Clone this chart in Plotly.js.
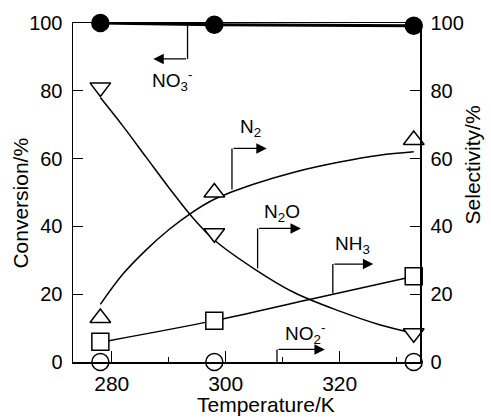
<!DOCTYPE html>
<html>
<head>
<meta charset="utf-8">
<script src="https://cdn.plot.ly/plotly-3.0.1.min.js"></script>
<style>html,body{margin:0;padding:0;background:#fff;}#chart{width:491px;height:419px;}</style>
</head>
<body>
<div id="chart"></div>
<script>
// Measured points
const temps = [278, 298, 333];
const no3Conv = [100, 99.5, 99.2];
const n2Sel = [13, 50, 65.5];
const n2oSel = [81, 38, 8.5];
const nh3Sel = [6, 12.2, 25.3];
const no2Sel = [0, 0, 0];

// Fitted curves
const fitT = [278, 282, 286, 290, 294, 298, 305, 312, 320, 327, 333];
const n2Fit = [17, 26, 33, 39, 44, 48, 52.5, 56, 59, 61, 62];
const n2oFit = [78, 69.5, 60.5, 51.5, 43, 36, 27.5, 20.5, 15, 11, 8.5];
const nh3FitT = [279.5, 298, 314.3, 331.5];
const nh3Fit = [6.3, 12.2, 18.3, 24.7];

const xTicks = [280, 300, 320];
const yTicks = [0, 20, 40, 60, 80, 100];

const F = "Liberation Sans, Arial, sans-serif";
const black = "#000";

function lineTrace(x, y, axis, w) {
  return {x: x, y: y, yaxis: axis, mode: "lines", type: "scatter",
    line: {color: black, width: w, shape: "spline", smoothing: 1},
    hoverinfo: "skip", showlegend: false, cliponaxis: false};
}
function markTrace(y, sym, size, fill, axis) {
  return {x: temps, y: y, yaxis: axis, mode: "markers", type: "scatter",
    marker: {symbol: sym, size: size, color: fill, line: {color: black, width: 1.5}},
    showlegend: false, cliponaxis: false};
}

const data = [
  lineTrace(temps, no3Conv, "y", 3),
  lineTrace(fitT, n2Fit, "y2", 1.5),
  lineTrace(fitT, n2oFit, "y2", 1.5),
  lineTrace(nh3FitT, nh3Fit, "y2", 1.5),
  markTrace(no2Sel, "circle", 17, "#fff", "y2"),
  markTrace(nh3Sel, "square", 17, "#fff", "y2"),
  markTrace(n2Sel, "triangle-up", 18, "#fff", "y2"),
  markTrace(n2oSel, "triangle-down", 18, "#fff", "y2"),
  markTrace(no3Conv, "circle", 17, black, "y")
];

// leaders: [xStart, yStart, yCorner, xTip]
const leaders = [
  [293.3, 100, 89.4, 287.3],
  [301.1, 50.9, 63, 307.2],
  [305.6, 27.6, 39.4, 313.2],
  [318.8, 20.2, 28.9, 325.9],
  [309.0, 0, 3.7, 317.4]
];
const shapes = leaders.map(l => ({type: "line", xref: "x", yref: "y",
  x0: l[0], x1: l[0], y0: l[1], y1: l[2], line: {color: black, width: 1.3}}));
const arrows = leaders.map(l => ({xref: "x", yref: "y", axref: "x", ayref: "y",
  x: l[3], y: l[2], ax: l[0], ay: l[2], text: "", showarrow: true,
  arrowhead: 2, arrowsize: 1.6, arrowwidth: 1.3, arrowcolor: black, standoff: 0}));

const labels = [
  {x: 290.6, y: 83, text: "NO<sub>3</sub><sup>-</sup>"},
  {x: 304.3, y: 69, text: "N<sub>2</sub>"},
  {x: 309.9, y: 44, text: "N<sub>2</sub>O"},
  {x: 322.3, y: 34.5, text: "NH<sub>3</sub>"},
  {x: 314, y: 8.5, text: "NO<sub>2</sub><sup>-</sup>"}
].map(a => Object.assign({xref: "x", yref: "y", showarrow: false,
  font: {family: F, size: 19, color: black}}, a));

const titles = [
  {xref: "paper", yref: "paper", x: 0.555, y: -0.166, yanchor: "bottom", xanchor: "center",
   text: "Temperature/K", font: {family: F, size: 21, color: black}},
  {xref: "paper", yref: "paper", x: -0.15, y: 0.47, textangle: -90, xanchor: "center", yanchor: "middle",
   text: "Conversion/%", font: {family: F, size: 21, color: black}},
  {xref: "paper", yref: "paper", x: 1.15, y: 0.58, textangle: -90, xanchor: "center", yanchor: "middle",
   text: "Selectivity/%", font: {family: F, size: 21, color: black}}
].map(a => Object.assign({showarrow: false}, a));

const yCommon = {range: [0, 100], tickvals: yTicks, ticks: "inside", ticklen: 10,
  tickwidth: 1.3, tickcolor: black, showline: true, linecolor: black, linewidth: 1.5,
  showgrid: false, zeroline: false, ticklabelstandoff: 5,
  tickfont: {family: F, size: 20, color: black}};

const layout = {
  width: 491, height: 419,
  margin: {l: 73, r: 71, t: 23, b: 57, pad: 0},
  paper_bgcolor: "#fff", plot_bgcolor: "#fff",
  showlegend: false,
  xaxis: {range: [273.2, 334.1], tickvals: xTicks, ticks: "inside", ticklen: 11,
    tickwidth: 1.3, tickcolor: black, showline: true, mirror: true, linecolor: black,
    linewidth: 1.5, showgrid: false, zeroline: false, ticklabelstandoff: 2,
    minor: {dtick: 10, tick0: 280, ticks: "inside", ticklen: 5, tickwidth: 1.3, tickcolor: black, showgrid: false},
    tickfont: {family: F, size: 21, color: black}},
  yaxis: Object.assign({side: "left"}, yCommon),
  yaxis2: Object.assign({side: "right", overlaying: "y"}, yCommon),
  shapes: shapes,
  annotations: arrows.concat(labels, titles)
};

Plotly.newPlot("chart", data, layout, {displayModeBar: false, staticPlot: true});
</script>
</body>
</html>
